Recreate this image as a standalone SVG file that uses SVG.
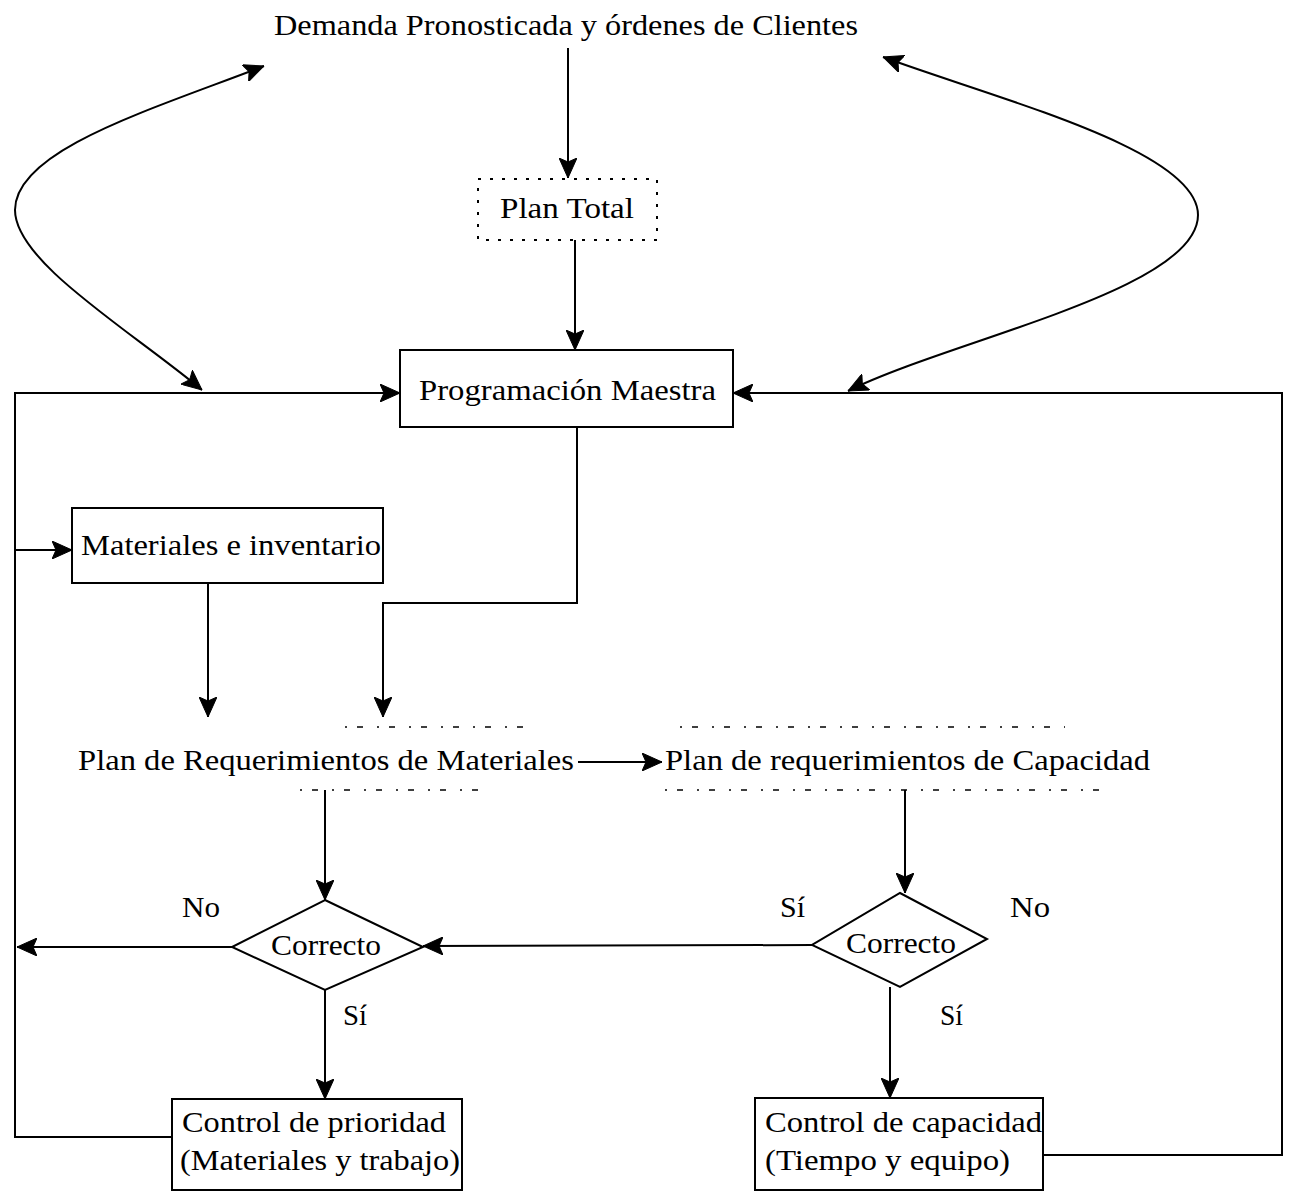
<svg xmlns="http://www.w3.org/2000/svg" width="1295" height="1192" viewBox="0 0 1295 1192">
  <style>
    .t { font-family: "Liberation Serif", "Times New Roman", serif; font-size: 30px; fill: #000; }
    .box { fill: #fff; stroke: #000; stroke-width: 2; }
    .dotbox { fill: none; stroke: #000; stroke-width: 2; stroke-dasharray: 3 9; }
    .edge { fill: none; stroke: #000; stroke-width: 1.5; stroke-dasharray: 2 10 6 14; }
    .dia { fill: #fff; stroke: #000; stroke-width: 2; }
    .c { fill: none; stroke: #000; stroke-width: 2; }
  </style>
  <defs>
    <marker id="ah" viewBox="0 0 20 18" refX="20" refY="9" markerWidth="20" markerHeight="18" markerUnits="userSpaceOnUse" orient="auto-start-reverse">
      <path d="M0,0 L20,9 L0,18 L4,9 Z" fill="#000" stroke="#000" stroke-width="1"/>
    </marker>
  </defs>
  <rect width="1295" height="1192" fill="#fff"/>

  <!-- connectors -->
  <g id="connectors">
    <line class="c" x1="568" y1="48" x2="568" y2="178" marker-end="url(#ah)"/>
    <line class="c" x1="575" y1="240" x2="575" y2="350" marker-end="url(#ah)"/>
    <!-- left feedback loop -->
    <polyline class="c" points="172,1137 15,1137 15,393 400,393" marker-end="url(#ah)"/>
    <line class="c" x1="15" y1="550" x2="72" y2="550" marker-end="url(#ah)"/>
    <line class="c" x1="232" y1="947" x2="17" y2="947" marker-end="url(#ah)"/>
    <!-- right feedback loop -->
    <polyline class="c" points="1043,1155 1282,1155 1282,393 733,393" marker-end="url(#ah)"/>
    <!-- curved two-way links with demand -->
    <path class="c" d="M264,66 C150,110 15,150 15,210 C15,262 130,330 202,390" marker-start="url(#ah)" marker-end="url(#ah)"/>
    <path class="c" d="M883,57 C1000,100 1198,150 1198,215 C1198,290 950,340 848,391" marker-start="url(#ah)" marker-end="url(#ah)"/>
    <!-- into material requirements plan -->
    <line class="c" x1="208" y1="583" x2="208" y2="717" marker-end="url(#ah)"/>
    <polyline class="c" points="577,427 577,603 383,603 383,717" marker-end="url(#ah)"/>
    <line class="c" x1="578" y1="762" x2="662" y2="762" marker-end="url(#ah)"/>
    <!-- plans to decisions -->
    <line class="c" x1="325" y1="790" x2="325" y2="900" marker-end="url(#ah)"/>
    <line class="c" x1="905" y1="790" x2="905" y2="893" marker-end="url(#ah)"/>
    <line class="c" x1="812" y1="945" x2="423" y2="946" marker-end="url(#ah)"/>
    <!-- decisions to controls -->
    <line class="c" x1="325" y1="990" x2="325" y2="1099" marker-end="url(#ah)"/>
    <line class="c" x1="890" y1="987" x2="890" y2="1098" marker-end="url(#ah)"/>
  </g>

  <g id="demanda">
    <text class="t" x="274" y="35" textLength="584" lengthAdjust="spacingAndGlyphs">Demanda Pronosticada y órdenes de Clientes</text>
  </g>

  <g id="plan-total">
    <rect class="dotbox" x="478" y="179" width="179" height="61"/>
    <text class="t" x="500" y="218" textLength="134" lengthAdjust="spacingAndGlyphs">Plan Total</text>
  </g>

  <g id="programacion-maestra">
    <rect class="box" x="400" y="350" width="333" height="77"/>
    <text class="t" x="419" y="400" textLength="297" lengthAdjust="spacingAndGlyphs">Programación Maestra</text>
  </g>

  <g id="materiales-inventario">
    <rect class="box" x="72" y="508" width="311" height="75"/>
    <text class="t" x="81" y="555" textLength="300" lengthAdjust="spacingAndGlyphs">Materiales e inventario</text>
  </g>

  <g id="plan-materiales">
    <line class="edge" x1="345" y1="727" x2="530" y2="727"/>
    <line class="edge" x1="300" y1="790" x2="480" y2="790"/>
    <text class="t" x="78" y="770" textLength="496" lengthAdjust="spacingAndGlyphs">Plan de Requerimientos de Materiales</text>
  </g>

  <g id="plan-capacidad">
    <line class="edge" x1="680" y1="727" x2="1065" y2="727"/>
    <line class="edge" x1="665" y1="790" x2="1100" y2="790"/>
    <text class="t" x="665" y="770" textLength="485" lengthAdjust="spacingAndGlyphs">Plan de requerimientos de Capacidad</text>
  </g>

  <g id="decision-materiales">
    <polygon class="dia" points="325,900 423,947 325,990 232,947"/>
    <text class="t" x="271" y="955" textLength="110" lengthAdjust="spacingAndGlyphs">Correcto</text>
    <text class="t" x="182" y="917" textLength="38" lengthAdjust="spacingAndGlyphs">No</text>
    <text class="t" x="343" y="1025" textLength="24" lengthAdjust="spacingAndGlyphs">Sí</text>
  </g>

  <g id="decision-capacidad">
    <polygon class="dia" points="900,893 987,939 900,987 812,945"/>
    <text class="t" x="846" y="953" textLength="110" lengthAdjust="spacingAndGlyphs">Correcto</text>
    <text class="t" x="780" y="917" textLength="25" lengthAdjust="spacingAndGlyphs">Sí</text>
    <text class="t" x="1010" y="917" textLength="40" lengthAdjust="spacingAndGlyphs">No</text>
    <text class="t" x="940" y="1025" textLength="23" lengthAdjust="spacingAndGlyphs">Sí</text>
  </g>

  <g id="control-prioridad">
    <rect class="box" x="172" y="1099" width="290" height="91"/>
    <text class="t" x="182" y="1132" textLength="264" lengthAdjust="spacingAndGlyphs">Control de prioridad</text>
    <text class="t" x="180" y="1170" textLength="280" lengthAdjust="spacingAndGlyphs">(Materiales y trabajo)</text>
  </g>

  <g id="control-capacidad">
    <rect class="box" x="755" y="1098" width="288" height="92"/>
    <text class="t" x="765" y="1132" textLength="277" lengthAdjust="spacingAndGlyphs">Control de capacidad</text>
    <text class="t" x="765" y="1170" textLength="245" lengthAdjust="spacingAndGlyphs">(Tiempo y equipo)</text>
  </g>
</svg>
